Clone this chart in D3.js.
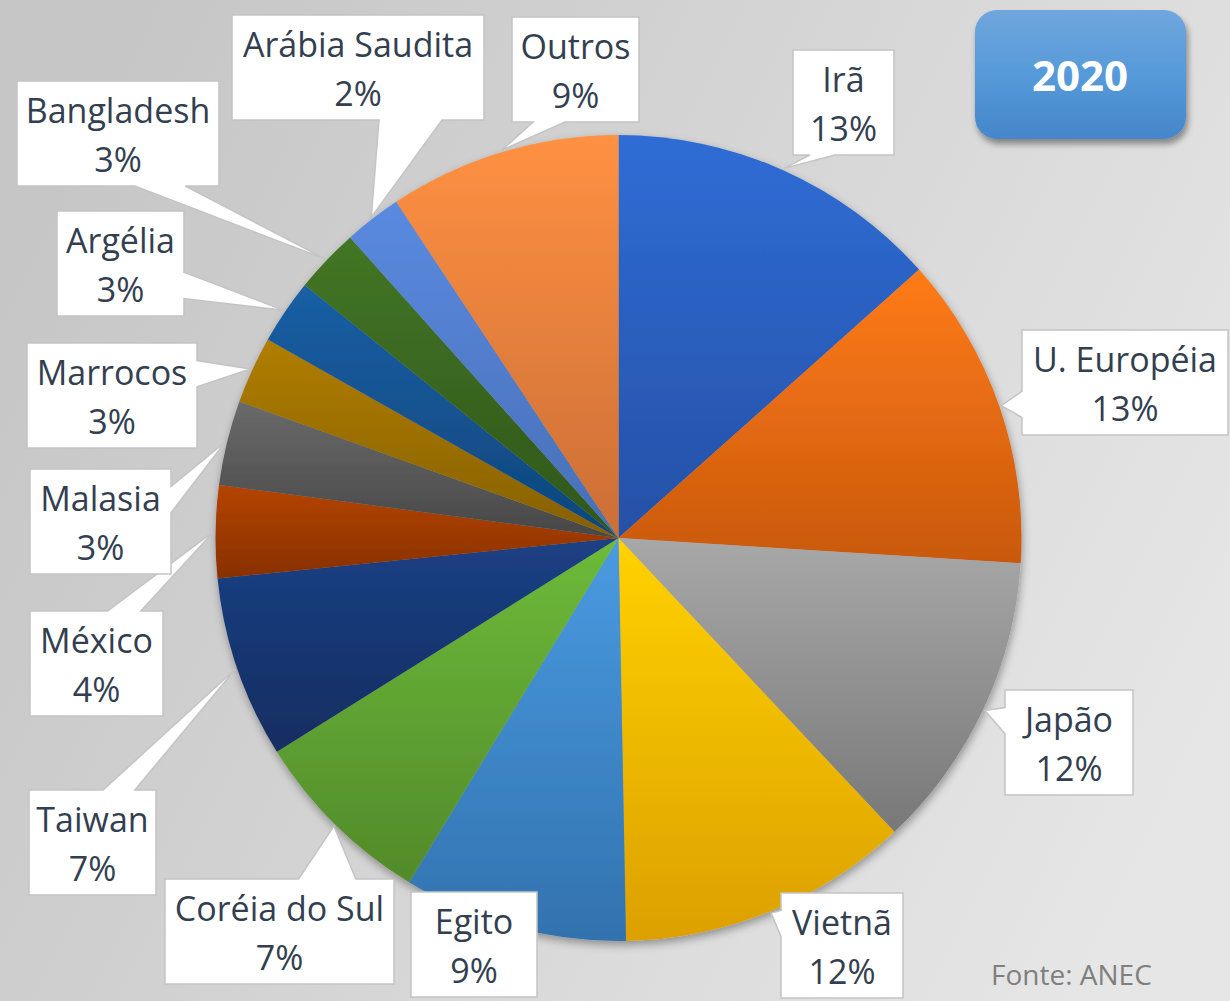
<!DOCTYPE html>
<html>
<head>
<meta charset="utf-8">
<script src="https://cdn.jsdelivr.net/npm/d3@7"></script>
<style>
  body { margin: 0; background: #fff; }
  svg { display: block; }
</style>
</head>
<body>
<div id="chart-area"></div>
<script>
// data (share of total, clockwise from 12 o'clock)
const countries = ["Irã", "U. Européia", "Japão", "Vietnã", "Egito", "Coréia do Sul", "Taiwan",
                   "México", "Malasia", "Marrocos", "Argélia", "Bangladesh", "Arábia Saudita", "Outros"];
const shares = [13.4, 12.6, 12.0, 11.7, 9.0, 7.4, 7.3, 3.7, 3.4, 2.7, 2.6, 2.6, 2.3, 9.3];
const year = "2020";
const source = "Fonte: ANEC";

// slice gradients (top, bottom)
const colorsTop = ["#2f6dd5", "#ff7b15", "#a8a8a8", "#ffd200", "#4a9be2", "#6dbb3a", "#1b4084",
                   "#b54400", "#6a6a6a", "#b07e00", "#1a5fa4", "#427625", "#5a8ae0", "#ff9142"];
const colorsBot = ["#2550a6", "#c9590f", "#787878", "#dca000", "#3272ae", "#528a2a", "#122d60",
                   "#873000", "#474747", "#866000", "#0e467c", "#30561a", "#486fb6", "#cb6e36"];

// callout box layout: left, top, width
const boxes = {
  "Irã": [793, 50, 101],
  "U. Européia": [1022, 330, 206],
  "Japão": [1005, 690, 128],
  "Vietnã": [781, 893, 122],
  "Egito": [411, 892, 126],
  "Coréia do Sul": [165, 879, 229],
  "Taiwan": [29, 790, 127],
  "México": [30, 611, 133],
  "Malasia": [30, 469, 141],
  "Marrocos": [27, 343, 170],
  "Argélia": [57, 211, 127],
  "Bangladesh": [17, 81, 202],
  "Arábia Saudita": [232, 15, 252],
  "Outros": [512, 17, 127]
};
const boxH = 105;

const W = 1230, H = 1001;
const cx = 618.5, cy = 538, R = 403;

const svg = d3.select("#chart-area").append("svg")
    .attr("width", W).attr("height", H);

const defs = svg.append("defs");

let bg = defs.append("linearGradient").attr("id", "bg")
    .attr("x1", 0).attr("y1", 0.3).attr("x2", 1).attr("y2", 0.7);
bg.append("stop").attr("offset", "0%").attr("stop-color", "#c6c6c6");
bg.append("stop").attr("offset", "100%").attr("stop-color", "#e6e6e6");

let tb = defs.append("linearGradient").attr("id", "titleGrad")
    .attr("x1", 0).attr("y1", 0).attr("x2", 0).attr("y2", 1);
tb.append("stop").attr("offset", "0%").attr("stop-color", "#70a6dc");
tb.append("stop").attr("offset", "50%").attr("stop-color", "#559ad9");
tb.append("stop").attr("offset", "100%").attr("stop-color", "#4586ca");

countries.forEach(function(c, i){
    let g = defs.append("linearGradient").attr("id", "slice" + i)
        .attr("x1", 0).attr("y1", 0).attr("x2", 0).attr("y2", 1);
    g.append("stop").attr("offset", "0%").attr("stop-color", colorsTop[i]);
    g.append("stop").attr("offset", "100%").attr("stop-color", colorsBot[i]);
});

let sh = defs.append("filter").attr("id", "shadow")
    .attr("x", "-10%").attr("y", "-10%").attr("width", "120%").attr("height", "125%");
sh.append("feDropShadow").attr("dx", 1).attr("dy", 4).attr("stdDeviation", 4)
    .attr("flood-color", "#000").attr("flood-opacity", 0.35);

let sh2 = defs.append("filter").attr("id", "shadow2")
    .attr("x", "-10%").attr("y", "-10%").attr("width", "125%").attr("height", "135%");
sh2.append("feDropShadow").attr("dx", 2).attr("dy", 5).attr("stdDeviation", 3)
    .attr("flood-color", "#000").attr("flood-opacity", 0.4);

svg.append("rect").attr("width", W).attr("height", H).attr("fill", "url(#bg)");

const data = countries.map(function(c, i){ return {name: c, value: shares[i], idx: i}; });

const pie = d3.pie().sort(null).value(d => d.value);
const arc = d3.arc().innerRadius(0).outerRadius(R);
const arcs = pie(data);

let pieG = svg.append("g")
    .attr("transform", "translate(" + cx + "," + cy + ")")
    .attr("filter", "url(#shadow)");

pieG.selectAll("path")
    .data(arcs)
    .enter()
    .append("path")
    .attr("d", arc)
    .attr("fill", d => "url(#slice" + d.data.idx + ")");

// rectangular callout with a wedge pointing at (tx, ty)
function callout(l, t, w, h, tx, ty){
    let r = l + w, b = t + h;
    let dxPos = tx - (l + w / 2), dyPos = ty - (t + h / 2);
    let dq = dxPos * h / w;
    if (tx > l && tx < r && ty > t && ty < b) {
        return "M" + l + "," + t + "H" + r + "V" + b + "H" + l + "Z";
    }
    let x1 = l + w * (dxPos > 0 ? 7 : 2) / 12, x2 = l + w * (dxPos > 0 ? 10 : 5) / 12;
    let y1 = t + h * (dyPos > 0 ? 7 : 2) / 12, y2 = t + h * (dyPos > 0 ? 10 : 5) / 12;
    let p;
    if (Math.abs(dyPos) > Math.abs(dq)) {
        if (dyPos < 0) p = [[l, t], [x1, t], [tx, ty], [x2, t], [r, t], [r, b], [l, b]];
        else p = [[l, t], [r, t], [r, b], [x2, b], [tx, ty], [x1, b], [l, b]];
    } else {
        if (dxPos < 0) p = [[l, t], [r, t], [r, b], [l, b], [l, y2], [tx, ty], [l, y1]];
        else p = [[l, t], [r, t], [r, y1], [tx, ty], [r, y2], [r, b], [l, b]];
    }
    return "M" + p.map(q => q.join(",")).join("L") + "Z";
}

let labels = svg.append("g");

arcs.forEach(function(d){
    let bx = boxes[d.data.name];
    let a = (d.startAngle + d.endAngle) / 2;
    let tx = cx + (R + 2) * Math.sin(a), ty = cy - (R + 2) * Math.cos(a);
    labels.append("path")
        .attr("d", callout(bx[0], bx[1], bx[2], boxH, tx, ty))
        .attr("fill", "#fff")
        .attr("stroke", "#c4c4c4")
        .attr("stroke-width", 1.5)
        .attr("stroke-linejoin", "miter");
    let t = labels.append("text")
        .attr("text-anchor", "middle")
        .attr("font-family", "'Open Sans', sans-serif")
        .attr("font-size", 34)
        .attr("fill", "#333f50");
    t.append("tspan").attr("x", bx[0] + bx[2] / 2).attr("y", bx[1] + 42).text(d.data.name);
    t.append("tspan").attr("x", bx[0] + bx[2] / 2).attr("y", bx[1] + 91)
        .text(Math.round(d.data.value) + "%");
});

// year badge
svg.append("rect")
    .attr("x", 975).attr("y", 10).attr("width", 211).attr("height", 129)
    .attr("rx", 22).attr("ry", 22)
    .attr("fill", "url(#titleGrad)")
    .attr("filter", "url(#shadow2)");
svg.append("text")
    .attr("x", 1080).attr("y", 91)
    .attr("text-anchor", "middle")
    .attr("font-family", "'Open Sans', sans-serif")
    .attr("font-weight", "bold")
    .attr("font-size", 42)
    .attr("fill", "#fff")
    .text(year);

svg.append("text")
    .attr("x", 991).attr("y", 985)
    .attr("font-family", "'Open Sans', sans-serif")
    .attr("font-size", 28)
    .attr("fill", "#7f7f7f")
    .text(source);
</script>
</body>
</html>
